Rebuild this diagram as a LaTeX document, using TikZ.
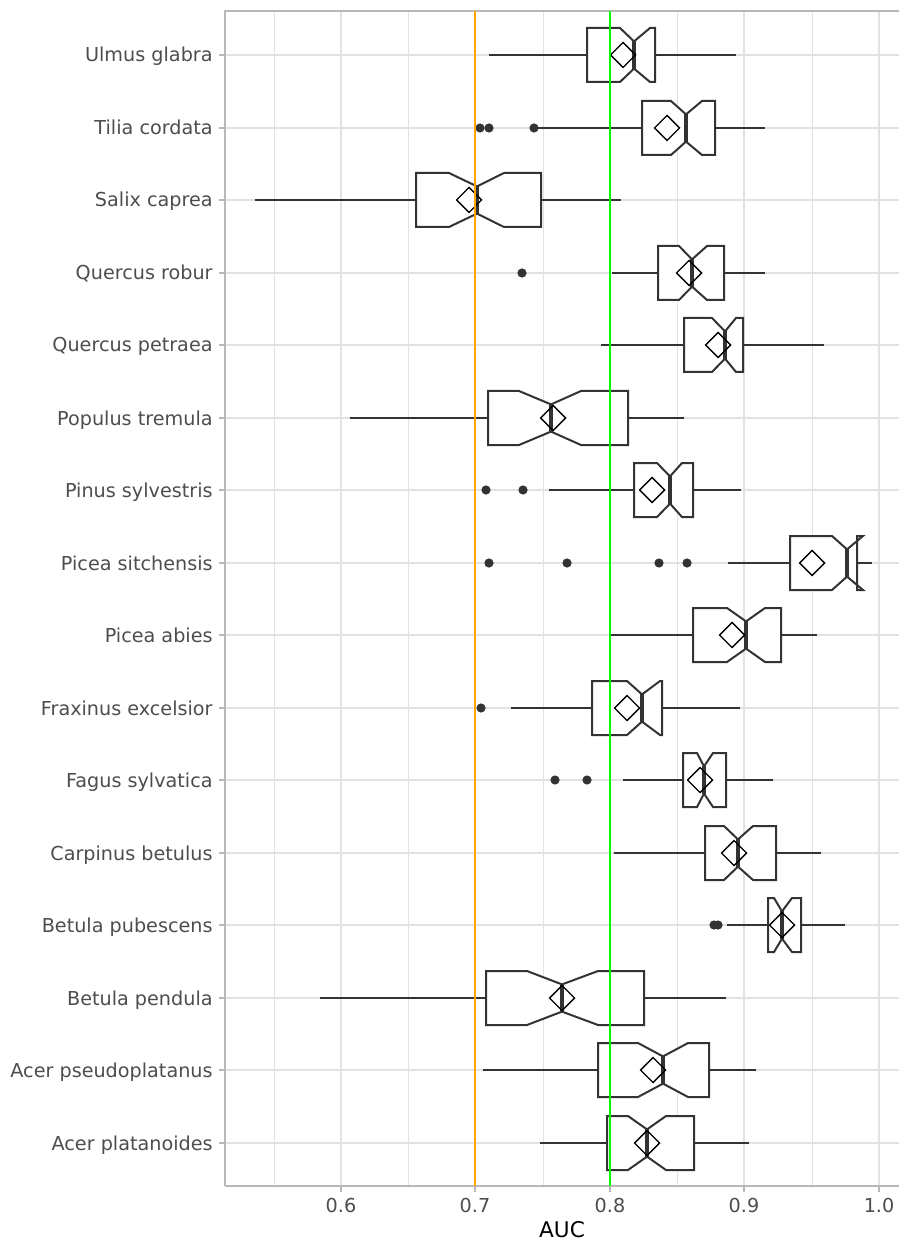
\documentclass[tikz,border=0pt]{standalone}
\usepackage{fontspec}
\setmainfont{DejaVu Sans}
\definecolor{boxgray}{RGB}{51,51,51}
\definecolor{gridgray}{RGB}{226,226,226}
\definecolor{axisgray}{RGB}{184,184,184}
\definecolor{labgray}{RGB}{77,77,77}
\definecolor{aucorange}{HTML}{FFA500}
\definecolor{aucgreen}{HTML}{00FF00}
\tikzset{
  gridmajor/.style={draw=gridgray,line width=0.6pt},
  gridminor/.style={draw=gridgray,line width=0.35pt},
  axisline/.style={draw=axisgray,line width=0.6pt},
  whisk/.style={draw=boxgray,line width=1pt},
  boxst/.style={draw=boxgray,fill=white,line width=1pt,line join=miter},
  medst/.style={draw=boxgray,line width=2pt},
  meanst/.style={draw=black,line width=0.7pt,fill=none},
  outl/.style={fill=boxgray,draw=none},
  refline/.style={line width=1pt},
  ylab/.style={anchor=base east,inner sep=0pt,text=labgray,font=\fontsize{9.6}{11}\selectfont},
  xlab/.style={anchor=base,inner sep=0pt,text=labgray,font=\fontsize{9.6}{11}\selectfont},
  xtitle/.style={anchor=base,inner sep=0pt,text=black,font=\fontsize{10.8}{13}\selectfont},
}
\begin{document}
\begin{tikzpicture}[x=0.5pt,y=-0.5pt]
\useasboundingbox (0,0) rectangle (899,1240);
% grid
\foreach \gx in {274,408,543,677,812}{
  \draw[gridminor] (\gx,11) -- (\gx,1186);
}
\foreach \gx in {341,475,610,744,879}{
  \draw[gridmajor] (\gx,11) -- (\gx,1186);
}
\foreach \i in {0,...,15}{
  \pgfmathsetmacro\yc{round(55+72.53*\i)}
  \draw[gridmajor] (225,\yc) -- (899,\yc);
  \draw[axisline] (219,\yc) -- (225,\yc);
}
% axes
\draw[axisline] (225,1186) -- (225,11) -- (899,11);
\draw[axisline] (225,1186) -- (899,1186);
\foreach \gx in {341,475,610,744,879}{
  \draw[axisline] (\gx,1186) -- (\gx,1192);
}
% boxes
\foreach \i/\wl/\qa/\nl/\md/\nh/\qb/\wh/\mn in {
0/489/587/620/634/650/655/736/623,
1/538/642/671/686/702/715/765/667,
2/255/416/449/477/504/541/621/469,
3/612/658/679/692/707/724/765/689,
4/601/684/712/725/736/743/824/718,
5/350/488/519/551/581/628/684/553,
6/549/634/657/670/682/693/741/652,
7/728/790/832/847/863/857/872/812,
8/611/693/727/746/765/781/817/732,
9/511/592/627/642/660/662/740/627,
10/623/683/697/704/713/726/773/700,
11/614/705/724/738/753/776/821/734,
12/727/768/774/782/792/801/845/782,
13/320/486/527/562/598/644/726/562,
14/483/598/638/663/688/709/756/653,
15/540/607/628/647/666/694/749/647}{
  \pgfmathsetmacro\yc{round(55+72.53*\i)}
  \pgfmathsetmacro\yt{\yc-27}
  \pgfmathsetmacro\yb{\yc+27}
  \pgfmathsetmacro\ynt{\yc-13.6}
  \pgfmathsetmacro\ynb{\yc+13.6}
  \draw[whisk] (\wl,\yc) -- (\qa,\yc);
  \draw[whisk] (\qb,\yc) -- (\wh,\yc);
  \draw[boxst] (\qa,\yt) -- (\nl,\yt) -- (\md,\ynt) -- (\nh,\yt) -- (\qb,\yt) -- (\qb,\yb) -- (\nh,\yb) -- (\md,\ynb) -- (\nl,\yb) -- (\qa,\yb) -- cycle;
  \draw[medst] (\md,\ynt) -- (\md,\ynb);
}
% outliers
\foreach \i/\ox in {1/480,1/489,1/534,3/522,6/486,6/523,7/489,7/567,7/659,7/687,9/481,10/555,10/587,12/714,12/718}{
  \pgfmathsetmacro\yc{round(55+72.53*\i)}
  \fill[outl] (\ox,\yc) circle[radius=2.3pt];
}
% means
\foreach \i/\mn in {0/623,1/667,2/469,3/689,4/718,5/553,6/652,7/812,8/732,9/627,10/700,11/734,12/782,13/562,14/653,15/647}{
  \pgfmathsetmacro\yc{round(55+72.53*\i)}
  \draw[meanst] ({\mn-12.5},\yc) -- (\mn,{\yc-12.5}) -- ({\mn+12.5},\yc) -- (\mn,{\yc+12.5}) -- cycle;
}
% reference lines
\draw[refline,draw=aucorange] (475,11) -- (475,1186);
\draw[refline,draw=aucgreen] (610,11) -- (610,1186);
% labels
\foreach \i/\nm in {0/Ulmus glabra,1/Tilia cordata,2/Salix caprea,3/Quercus robur,4/Quercus petraea,5/Populus tremula,6/Pinus sylvestris,7/Picea sitchensis,8/Picea abies,9/Fraxinus excelsior,10/Fagus sylvatica,11/Carpinus betulus,12/Betula pubescens,13/Betula pendula,14/Acer pseudoplatanus,15/Acer platanoides}{
  \pgfmathsetmacro\yc{round(55+72.53*\i)+7}
  \node[ylab] (ylab\i) at (213,\yc) {\nm};
}
\node[xlab] (x06) at (341,1212) {0.6};
\node[xlab] (x07) at (475,1212) {0.7};
\node[xlab] (x08) at (610,1212) {0.8};
\node[xlab] (x09) at (744,1212) {0.9};
\node[xlab] (x10) at (879,1212) {1.0};
\node[xtitle] (auc) at (562,1237) {AUC};
\end{tikzpicture}
\end{document}
